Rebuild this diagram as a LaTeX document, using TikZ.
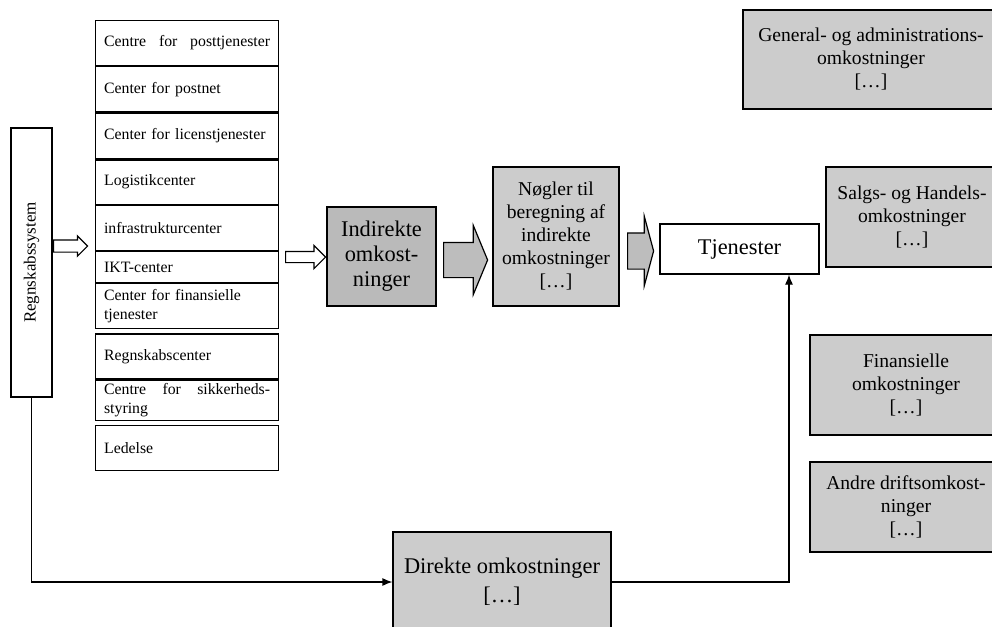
\documentclass[tikz,border=0pt]{standalone}
\usepackage{fontspec}
\setmainfont{Liberation Serif}
\usetikzlibrary{positioning,shapes.arrows,arrows.meta}
\tikzset{
  unit/.style={draw, line width=0.6pt, text width=83pt, inner xsep=4.25pt, inner ysep=1.5pt,
    align=left, font=\fontsize{7.9}{9.5}\selectfont},
  cost/.style={draw, line width=0.6pt, fill=black!20, align=center, inner sep=2pt,
    font=\fontsize{9.8}{11.5}\selectfont},
  bigbox/.style={draw, line width=0.6pt, align=center, inner sep=2pt,
    font=\fontsize{11.2}{12.5}\selectfont},
  hollowarrow/.style={single arrow, draw, line width=0.6pt, fill=white, inner xsep=0pt,
    minimum width=0pt, single arrow head indent=0pt},
  grayarrow/.style={hollowarrow, fill=black!26},
  link/.style={draw, line width=0.6pt, -{Latex[length=5pt,width=4pt]}},
}
\begin{document}
\begin{tikzpicture}[x=0.5pt,y=-0.5pt]
\useasboundingbox (0,0) rectangle (992,627);
% accounting system
\node[draw, line width=0.6pt, minimum width=20.5pt, minimum height=134.5pt, inner sep=0pt,
  font=\fontsize{8.5}{10}\selectfont] (rs) at (31.5,262.5) {\rotatebox{90}{Regnskabssystem}};
% centres
\node[unit, anchor=north west, minimum height=22.5pt] (u1) at (95,20) {Centre\hfill for\hfill posttjenester};
\node[unit, below=0pt of u1, minimum height=22.5pt] (u2) {Center for postnet};
\node[unit, below=0pt of u2, minimum height=23pt] (u3) {Center for licenstjenester};
\node[unit, below=0pt of u3, minimum height=22pt] (u4) {Logistikcenter};
\node[unit, below=0pt of u4, minimum height=22.5pt] (u5) {infrastrukturcenter};
\node[unit, below=0pt of u5, minimum height=15.5pt] (u6) {IKT-center};
\node[unit, below=0pt of u6, minimum height=22.5pt] (u7) {Center for finansielle\\tjenester};
\node[unit, below=2pt of u7, minimum height=22.5pt] (u8) {Regnskabscenter};
\node[unit, below=0pt of u8, minimum height=20pt] (u9) {Centre\hfill for\hfill sikkerheds-\\styring};
\node[unit, below=2pt of u9, minimum height=22.5pt] (u10) {Ledelse};
% main flow
\node[bigbox, fill=black!27, minimum width=54.5pt, minimum height=49.5pt] (ind) at (381.5,256.5)
  {Indirekte\\omkost-\\ninger};
\node[cost, minimum width=63pt, minimum height=69.5pt] (keys) at (556,236.5)
  {Nøgler til\\beregning af\\indirekte\\omkostninger\\{[\dots]}};
\node[bigbox, fill=white, minimum width=79.5pt, minimum height=25pt] (tj) at (739.5,249) {Tjenester};
\node[bigbox, fill=black!20, minimum width=109pt, minimum height=50pt] (dir) at (502,582)
  {Direkte omkostninger\\[2pt]{[\dots]}};
% other costs
\node[cost, minimum width=128pt, minimum height=49.5pt] (gen) at (871,59.5)
  {General- og administrations-\\omkostninger\\{[\dots]}};
\node[cost, minimum width=86pt, minimum height=50pt] (sale) at (912,217)
  {Salgs- og Handels-\\omkostninger\\{[\dots]}};
\node[cost, minimum width=96pt, minimum height=50pt] (fin) at (906,385)
  {Finansielle\\omkostninger\\{[\dots]}};
\node[cost, minimum width=96pt, minimum height=45pt] (oth) at (906,507)
  {Andre driftsomkost-\\ninger\\{[\dots]}};
% block arrows
\node[hollowarrow, minimum height=17pt, inner ysep=2.75pt, single arrow head extend=2pt,
  anchor=tail] (a1) at (53,246) {};
\node[hollowarrow, minimum height=20pt, inner ysep=2.5pt, single arrow head extend=3pt,
  anchor=tail] (a2) at (285,257) {};
\node[grayarrow, minimum height=22pt, inner ysep=8.5pt, single arrow head extend=8.5pt,
  single arrow tip angle=135, anchor=tail] (a3) at (443,260) {};
\node[grayarrow, minimum height=13pt, inner ysep=8.75pt, single arrow head extend=8.25pt,
  single arrow tip angle=150, anchor=tail] (a4) at (627,251) {};
% connectors
\draw[link] (rs.south) |- (dir.west);
\draw[link] (dir.east) -| ([xshift=24.75pt]tj.south);
\end{tikzpicture}
\end{document}
